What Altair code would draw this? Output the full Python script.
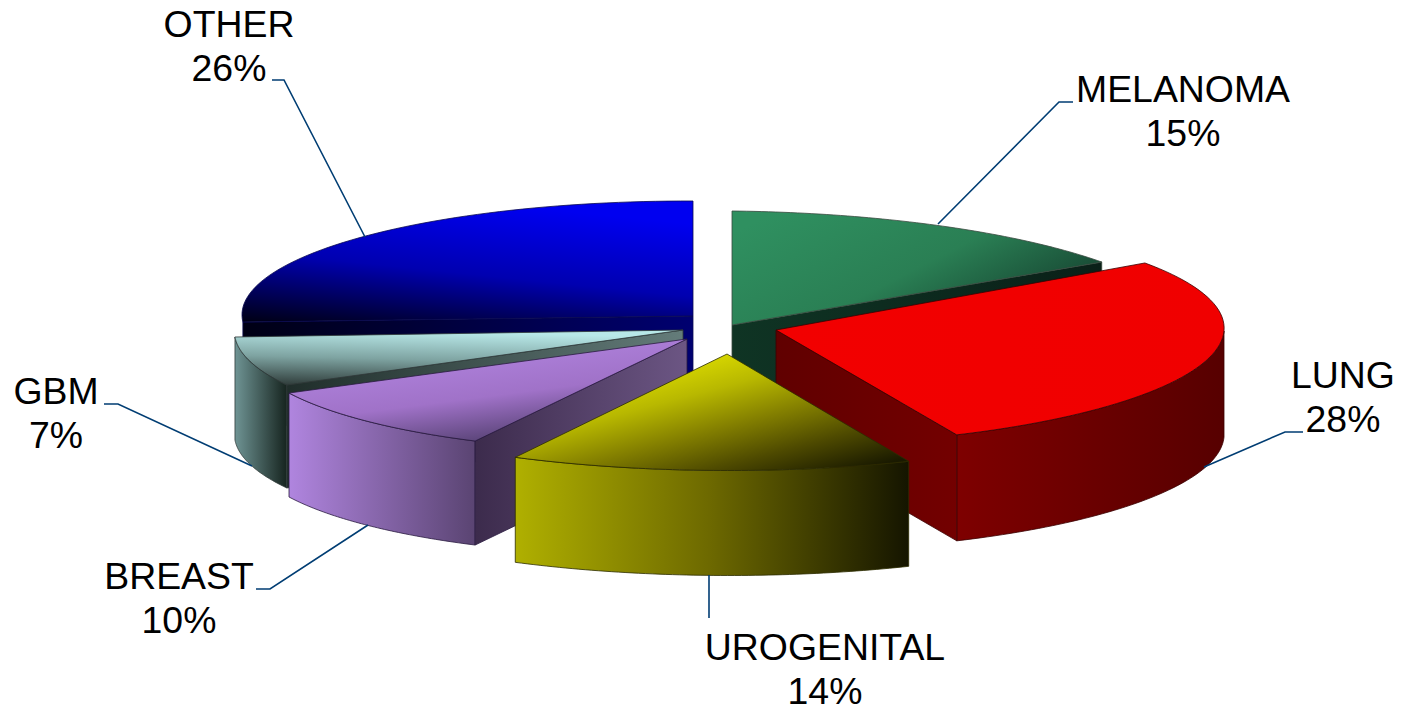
import numpy as np
import pandas as pd
import altair as alt

categories = ["MELANOMA", "LUNG", "UROGENITAL", "BREAST", "GBM", "OTHER"]
shares = [15, 28, 14, 10, 7, 26]

# layout: projection of each exploded slice (apex, radii, shear, tilt, wall height)
APEX = {"MELANOMA": (732, 325), "LUNG": (776, 330), "UROGENITAL": (727, 354),
        "BREAST": (687, 339), "GBM": (683, 330), "OTHER": (693, 316)}
AFFINE = {"MELANOMA": (457, 0, 114, 5), "LUNG": (448, 11, 115.4, 1), "UROGENITAL": (462, 16.6, 116.4, 4.7),
          "BREAST": (439, 27.6, 113, 0.5), "GBM": (448.5, 6.6, 114.5, 0.2), "OTHER": (451, 0, 115, 1.2)}
HEIGHT = {"MELANOMA": 104, "LUNG": 106, "UROGENITAL": 105, "BREAST": 104, "GBM": 103, "OTHER": 104}
LABEL_XY = {"MELANOMA": (1183, 91), "LUNG": (1343, 377), "UROGENITAL": (825, 649),
            "BREAST": (179, 578), "GBM": (56, 393), "OTHER": (229, 26)}
LEADERS = {"MELANOMA": [(1073, 102), (1059, 102), (938, 224)],
           "LUNG": [(1303, 432), (1285, 432), (1204, 467)],
           "UROGENITAL": [(709, 575), (709, 618)],
           "BREAST": [(256, 589), (270, 589), (368, 525)],
           "GBM": [(104, 404), (118, 404), (252, 466)],
           "OTHER": [(272, 80), (284, 80), (365, 237)]}
LEADER_COLOR = "#003d73"
EDGES = {"OTHER": "#0a0a50", "MELANOMA": "#3a4a40", "GBM": "#303a38",
         "LUNG": "#3a0000", "BREAST": "#2a1a40", "UROGENITAL": "#2c2c00"}


def grad(stops, x1=0.0, y1=0.0, x2=1.0, y2=0.0):
    n = len(stops) - 1
    return alt.LinearGradient(gradient="linear", x1=x1, y1=y1, x2=x2, y2=y2,
                              stops=[alt.GradientStop(color=c, offset=i / n) for i, c in enumerate(stops)])


STYLE = {
    "OTHER": dict(top=grad(["#000010", "#0000b0", "#0000f0"], 0.1, 1.05, 0.5, 0),
                  wall=grad(["#000014", "#000070"])),
    "MELANOMA": dict(top=grad(["#2f9060", "#2a7f54", "#12382a"], 0, 0.2, 1, 0.8),
                     wall=grad(["#0f3424", "#0a2018"])),
    "GBM": dict(top=grad(["#2f3c3a", "#7ea3a1", "#b8e8e8"], 0.1, 1, 0.3, 0),
                wall=grad(["#1f2d2a", "#647c7a"]), side=grad(["#6f9494", "#16241f"])),
    "LUNG": dict(top=grad(["#f20000", "#f00000"]),
                 wall=grad(["#600000", "#730000"]), side=grad(["#7e0000", "#570000"])),
    "BREAST": dict(top=grad(["#ad80da", "#a072c8", "#5a4478"], 0.15, 0.3, 0.5, 1),
                   wall=grad(["#3c2b4c", "#6c5684"]), side=grad(["#b085df", "#5a4472"])),
    "UROGENITAL": dict(top=grad(["#dcdc00", "#b8b800", "#848000", "#4e4a00", "#1a1a00"], 0.46, 0, 1.14, 0.76),
                       side=grad(["#b0b000", "#6c6800", "#151500"])),
}


def slice_point(cat, theta):
    A, S, B, T = AFFINE[cat]
    ax, ay = APEX[cat]
    return ax + A * np.sin(theta) + S * np.cos(theta), ay - B * np.cos(theta) + T * np.sin(theta)


edges = np.cumsum([0] + shares) / sum(shares) * 2 * np.pi
ANGLES = {c: (edges[i], edges[i + 1]) for i, c in enumerate(categories)}

X = alt.X("x:Q", scale=alt.Scale(domain=[8, 1397], nice=False, zero=False), axis=None)
Y = alt.Y("y:Q", scale=alt.Scale(domain=[705, 8], nice=False, zero=False), axis=None)


def poly(pts, fill, edge):
    xs, ys = zip(*pts)
    df = pd.DataFrame({"x": list(xs) + [xs[0]], "y": list(ys) + [ys[0]]})
    df["i"] = range(len(df))
    return alt.Chart(df).mark_line(fill=fill, stroke=edge, strokeWidth=0.8, interpolate="linear",
                                   strokeJoin="round").encode(x=X, y=Y, order="i:Q")


def top_poly(cat):
    t0, t1 = ANGLES[cat]
    th = np.linspace(t0, t1, 60)
    arc = [slice_point(cat, t) for t in th]
    return poly([APEX[cat]] + arc, STYLE[cat]["top"], EDGES[cat])


def side_poly(cat):
    t0, t1 = ANGLES[cat]
    t0 = max(t0, np.pi / 2)
    t1 = min(t1, 3 * np.pi / 2)
    th = np.linspace(t0, t1, 60)
    arc = [slice_point(cat, t) for t in th]
    h = HEIGHT[cat]
    return poly(arc + [(x, y + h) for x, y in arc[::-1]], STYLE[cat]["side"], EDGES[cat])


def wall_poly(cat, theta):
    ax, ay = APEX[cat]
    ex, ey = slice_point(cat, theta)
    h = HEIGHT[cat]
    return poly([(ax, ay), (ex, ey), (ex, ey + h), (ax, ay + h)], STYLE[cat]["wall"], EDGES[cat])


layers = []
for cat in ["OTHER", "MELANOMA", "GBM", "LUNG", "BREAST", "UROGENITAL"]:
    t0, t1 = ANGLES[cat]
    if "side" in STYLE[cat]:
        layers.append(side_poly(cat))
    if "wall" in STYLE[cat]:
        # the wall that faces the viewer: clockwise end on the right half, start on the left half
        facing = t1 if cat in ("MELANOMA", "LUNG") else t0
        layers.append(wall_poly(cat, facing))
    layers.append(top_poly(cat))

for cat, pts in LEADERS.items():
    xs, ys = zip(*pts)
    df = pd.DataFrame({"x": xs, "y": ys, "i": range(len(xs))})
    layers.append(alt.Chart(df).mark_line(color=LEADER_COLOR, strokeWidth=1.6).encode(x=X, y=Y, order="i:Q"))

LINE_GAP = 43.5
label_rows = []
for cat, share in zip(categories, shares):
    lx, ly = LABEL_XY[cat]
    label_rows.append({"x": lx, "y": ly, "t": cat})
    label_rows.append({"x": lx, "y": ly + LINE_GAP, "t": f"{share}%"})
labels = pd.DataFrame(label_rows)
layers.append(alt.Chart(labels).mark_text(font="Liberation Sans", fontSize=37.4, color="#000000",
                                          align="center", baseline="middle").encode(x=X, y=Y, text="t:N"))

chart = alt.layer(*layers).properties(
    width=1389, height=697, padding=0, autosize=alt.AutoSizeParams(type="none"), background="white"
).configure_view(stroke=None)

chart.save("out.html", embed_options={"renderer": "svg", "actions": False})
